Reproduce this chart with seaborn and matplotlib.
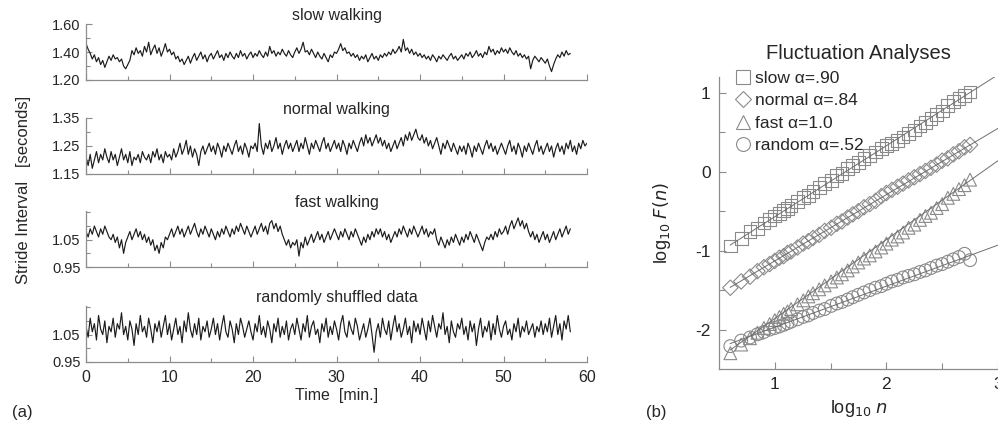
import numpy as np
import pandas as pd
import matplotlib
matplotlib.use("Agg")
import matplotlib.pyplot as plt
import seaborn as sns
from matplotlib.ticker import MultipleLocator, FixedLocator
from matplotlib.lines import Line2D

# ---- panel (a): stride interval [s], one reading every 0.25 min
slow = [1.46, 1.42, 1.39, 1.35, 1.38, 1.33, 1.36, 1.31, 1.34, 1.29, 1.33, 1.37, 1.34, 1.38, 1.35, 1.36, 1.33, 1.35, 1.30, 1.28,
        1.31, 1.34, 1.41, 1.38, 1.43, 1.39, 1.41, 1.37, 1.44, 1.40, 1.47, 1.38, 1.42, 1.45, 1.39, 1.43, 1.37, 1.41, 1.46, 1.40,
        1.42, 1.38, 1.40, 1.35, 1.37, 1.33, 1.35, 1.31, 1.34, 1.37, 1.32, 1.36, 1.39, 1.34, 1.37, 1.40, 1.35, 1.38, 1.33, 1.37,
        1.39, 1.35, 1.38, 1.41, 1.36, 1.38, 1.34, 1.39, 1.36, 1.40, 1.37, 1.35, 1.39, 1.36, 1.41, 1.37, 1.39, 1.35, 1.38, 1.40,
        1.36, 1.39, 1.37, 1.41, 1.38, 1.36, 1.40, 1.37, 1.44, 1.39, 1.41, 1.37, 1.40, 1.38, 1.42, 1.39, 1.37, 1.41, 1.38, 1.36,
        1.40, 1.43, 1.39, 1.42, 1.47, 1.40, 1.41, 1.38, 1.42, 1.39, 1.36, 1.40, 1.37, 1.35, 1.39, 1.36, 1.33, 1.38, 1.36, 1.40,
        1.39, 1.42, 1.46, 1.41, 1.43, 1.39, 1.40, 1.37, 1.39, 1.36, 1.38, 1.34, 1.37, 1.35, 1.38, 1.33, 1.36, 1.39, 1.35, 1.37,
        1.34, 1.38, 1.36, 1.39, 1.37, 1.40, 1.38, 1.42, 1.39, 1.41, 1.44, 1.40, 1.49, 1.41, 1.43, 1.39, 1.42, 1.38, 1.40, 1.37,
        1.39, 1.36, 1.38, 1.35, 1.37, 1.34, 1.38, 1.36, 1.33, 1.37, 1.35, 1.38, 1.36, 1.34, 1.37, 1.39, 1.35, 1.37, 1.34, 1.36,
        1.38, 1.35, 1.39, 1.37, 1.40, 1.36, 1.38, 1.41, 1.37, 1.39, 1.36, 1.40, 1.38, 1.44, 1.40, 1.42, 1.38, 1.41, 1.39, 1.43,
        1.40, 1.42, 1.39, 1.43, 1.40, 1.38, 1.41, 1.37, 1.39, 1.36, 1.38, 1.35, 1.37, 1.28, 1.34, 1.37, 1.35, 1.33, 1.36, 1.34,
        1.32, 1.35, 1.30, 1.26, 1.31, 1.35, 1.38, 1.36, 1.40, 1.37, 1.41, 1.38, 1.39]

normal = [1.21, 1.18, 1.22, 1.17, 1.20, 1.23, 1.19, 1.22, 1.20, 1.24, 1.21, 1.19, 1.23, 1.20, 1.22, 1.18, 1.21, 1.24, 1.20, 1.22,
          1.19, 1.23, 1.18, 1.21, 1.20, 1.22, 1.19, 1.23, 1.21, 1.20, 1.22, 1.19, 1.23, 1.21, 1.24, 1.20, 1.22, 1.19, 1.23, 1.21,
          1.22, 1.20, 1.24, 1.21, 1.23, 1.26, 1.22, 1.24, 1.27, 1.22, 1.25, 1.21, 1.24, 1.22, 1.18, 1.23, 1.25, 1.22, 1.24, 1.26,
          1.23, 1.25, 1.22, 1.26, 1.24, 1.21, 1.25, 1.23, 1.26, 1.24, 1.22, 1.25, 1.27, 1.23, 1.25, 1.22, 1.26, 1.24, 1.21, 1.25,
          1.24, 1.26, 1.23, 1.33, 1.25, 1.22, 1.26, 1.24, 1.27, 1.23, 1.25, 1.28, 1.24, 1.26, 1.22, 1.25, 1.27, 1.24, 1.26, 1.23,
          1.25, 1.27, 1.23, 1.26, 1.24, 1.28, 1.25, 1.22, 1.26, 1.24, 1.27, 1.25, 1.23, 1.26, 1.28, 1.24, 1.26, 1.23, 1.25, 1.27,
          1.24, 1.26, 1.23, 1.27, 1.25, 1.22, 1.26, 1.24, 1.27, 1.25, 1.23, 1.26, 1.28, 1.25, 1.29, 1.26, 1.28, 1.25, 1.27, 1.29,
          1.26, 1.28, 1.25, 1.27, 1.24, 1.26, 1.23, 1.25, 1.27, 1.24, 1.26, 1.28, 1.25, 1.29, 1.27, 1.30, 1.27, 1.29, 1.31, 1.28,
          1.27, 1.29, 1.26, 1.28, 1.25, 1.27, 1.24, 1.26, 1.28, 1.25, 1.22, 1.26, 1.24, 1.27, 1.25, 1.23, 1.26, 1.24, 1.22, 1.25,
          1.23, 1.25, 1.22, 1.26, 1.24, 1.21, 1.25, 1.23, 1.26, 1.24, 1.22, 1.25, 1.27, 1.24, 1.26, 1.23, 1.25, 1.22, 1.24, 1.26,
          1.24, 1.22, 1.25, 1.27, 1.23, 1.25, 1.22, 1.26, 1.24, 1.21, 1.25, 1.23, 1.26, 1.24, 1.22, 1.25, 1.27, 1.23, 1.25, 1.22,
          1.24, 1.26, 1.23, 1.25, 1.21, 1.24, 1.26, 1.23, 1.25, 1.22, 1.26, 1.24, 1.27, 1.23, 1.25, 1.22, 1.26, 1.24, 1.27, 1.25,
          1.26]

fast = [1.08, 1.06, 1.09, 1.07, 1.10, 1.08, 1.06, 1.09, 1.07, 1.10, 1.08, 1.06, 1.05, 1.07, 1.04, 1.06, 1.02, 1.05, 1.00, 1.04,
        1.06, 1.08, 1.05, 1.07, 1.09, 1.06, 1.08, 1.05, 1.07, 1.04, 1.06, 1.03, 1.05, 1.01, 1.03, 1.00, 1.04, 1.02, 1.06, 1.05,
        1.07, 1.09, 1.06, 1.08, 1.10, 1.07, 1.09, 1.06, 1.08, 1.10, 1.07, 1.09, 1.11, 1.08, 1.06, 1.09, 1.07, 1.10, 1.08, 1.06,
        1.09, 1.07, 1.05, 1.08, 1.06, 1.09, 1.07, 1.10, 1.08, 1.06, 1.09, 1.07, 1.10, 1.08, 1.11, 1.09, 1.07, 1.10, 1.08, 1.06,
        1.08, 1.10, 1.07, 1.09, 1.11, 1.08, 1.10, 1.07, 1.11, 1.12, 1.09, 1.11, 1.08, 1.10, 1.07, 1.05, 1.03, 1.05, 1.02, 1.04,
        1.03, 1.05, 0.99, 1.04, 1.02, 1.06, 1.03, 1.05, 1.07, 1.04, 1.06, 1.08, 1.05, 1.07, 1.04, 1.06, 1.08, 1.05, 1.07, 1.09,
        1.07, 1.05, 1.08, 1.06, 1.09, 1.07, 1.05, 1.08, 1.06, 1.09, 1.07, 1.05, 1.03, 1.06, 1.04, 1.07, 1.05, 1.08, 1.06, 1.09,
        1.07, 1.09, 1.06, 1.08, 1.05, 1.07, 1.04, 1.06, 1.08, 1.06, 1.09, 1.07, 1.10, 1.08, 1.06, 1.09, 1.07, 1.10, 1.08, 1.06,
        1.08, 1.10, 1.07, 1.09, 1.06, 1.08, 1.07, 1.09, 1.05, 1.03, 1.06, 1.04, 1.02, 1.05, 1.03, 1.06, 1.04, 1.07, 1.05, 1.03,
        1.06, 1.04, 1.07, 1.05, 1.08, 1.06, 1.04, 1.07, 1.05, 1.03, 1.01, 1.04, 1.06, 1.05, 1.07, 1.05, 1.08, 1.06, 1.09, 1.07,
        1.08, 1.10, 1.07, 1.10, 1.12, 1.09, 1.11, 1.13, 1.10, 1.12, 1.09, 1.11, 1.08, 1.06, 1.08, 1.05, 1.07, 1.04, 1.06, 1.08,
        1.05, 1.07, 1.04, 1.06, 1.08, 1.05, 1.07, 1.09, 1.06, 1.08, 1.10, 1.07, 1.09]

shuffled = [1.08, 1.04, 1.11, 1.06, 1.09, 1.03, 1.12, 1.07, 1.05, 1.10, 1.02, 1.08, 1.06, 1.11, 1.04, 1.09, 1.07, 1.13, 1.05, 1.08,
            1.03, 1.10, 1.07, 1.01, 1.09, 1.05, 1.12, 1.06, 1.08, 1.04, 1.11, 1.07, 1.02, 1.09, 1.06, 1.10, 1.04, 1.08, 1.12, 1.05,
            1.09, 1.03, 1.07, 1.11, 1.05, 1.08, 1.02, 1.10, 1.06, 1.13, 1.07, 1.04, 1.09, 1.05, 1.11, 1.03, 1.08, 1.06, 1.10, 1.04,
            1.07, 1.11, 1.05, 1.09, 1.03, 1.08, 1.12, 1.06, 1.04, 1.10, 1.07, 1.02, 1.09, 1.05, 1.11, 1.08, 1.04, 1.07, 1.10, 1.06,
            1.03, 1.09, 1.06, 1.12, 1.05, 1.08, 1.04, 1.10, 1.07, 1.02, 1.09, 1.06, 1.11, 1.04, 1.08, 1.05, 1.10, 1.03, 1.07, 1.09,
            1.05, 1.11, 1.07, 1.03, 1.09, 1.06, 1.12, 1.04, 1.08, 1.10, 1.05, 1.07, 1.02, 1.09, 1.06, 1.11, 1.04, 1.08, 1.05, 1.10,
            1.07, 1.03, 1.09, 1.12, 1.06, 1.04, 1.10, 1.07, 1.05, 1.11, 1.08, 1.03, 1.06, 1.09, 1.04, 1.07, 1.11, 1.05, 0.985, 1.06,
            1.09, 1.04, 1.11, 1.07, 1.05, 1.10, 1.03, 1.08, 1.12, 1.06, 1.09, 1.04, 1.07, 1.11, 1.05, 1.08, 1.02, 1.10, 1.06, 1.09,
            1.05, 1.11, 1.07, 1.03, 1.10, 1.06, 1.12, 1.08, 1.04, 1.09, 1.07, 1.13, 1.05, 1.08, 1.02, 1.10, 1.06, 1.04, 1.09, 1.07,
            1.11, 1.05, 1.08, 1.03, 1.10, 1.06, 1.09, 1.01, 1.07, 1.11, 1.04, 1.08, 1.06, 1.10, 1.03, 1.09, 1.05, 1.12, 1.07, 1.04,
            1.08, 1.10, 1.05, 1.07, 1.03, 1.09, 1.06, 1.11, 1.04, 1.08, 1.06, 1.10, 1.05, 1.07, 1.09, 1.04, 1.08, 1.06, 1.10, 1.05,
            1.09, 1.06, 1.11, 1.04, 1.08, 1.12, 1.05, 1.09, 1.03, 1.10, 1.07, 1.12, 1.06]

sample_step = 0.25  # minutes between readings

walk_titles = ["slow walking", "normal walking", "fast walking", "randomly shuffled data"]
walk_ylims = [(1.20, 1.60), (1.15, 1.35), (0.95, 1.155), (0.95, 1.155)]
walk_major = [[1.20, 1.40, 1.60], [1.15, 1.25, 1.35], [0.95, 1.05], [0.95, 1.05]]
walk_minor = [[1.30, 1.50], [1.20, 1.30], [1.00, 1.10, 1.15], [1.00, 1.10, 1.15]]

# ---- panel (b): fluctuation function, log10 F(n) vs box size n
box_size = [4, 5, 6, 7, 8, 9, 10, 11, 12, 13, 14, 16, 18, 20, 22, 25, 28, 32, 36, 40, 45, 50,
            56, 63, 71, 80, 90, 100, 112, 126, 141, 158, 178, 200, 224, 251, 282, 316, 355, 398, 447, 501, 562]
F_slow = [-0.94, -0.85, -0.76, -0.72, -0.65, -0.61, -0.56, -0.53, -0.49, -0.47, -0.43, -0.38, -0.33, -0.30, -0.25,
          -0.20, -0.15, -0.11, -0.05, -0.02, 0.04, 0.08, 0.12, 0.17, 0.21, 0.25, 0.29, 0.33, 0.36, 0.40, 0.44,
          0.49, 0.53, 0.58, 0.62, 0.67, 0.73, 0.77, 0.84, 0.89, 0.93, 0.97, 1.01]
F_normal = [-1.47, -1.39, -1.33, -1.26, -1.21, -1.17, -1.13, -1.09, -1.07, -1.03, -1.01, -0.96, -0.91, -0.88, -0.84,
            -0.80, -0.75, -0.71, -0.66, -0.63, -0.58, -0.54, -0.50, -0.45, -0.41, -0.37, -0.31, -0.27, -0.23, -0.19,
            -0.15, -0.11, -0.07, -0.03, 0.01, 0.05, 0.09, 0.14, 0.17, 0.22, 0.26, 0.31, 0.34]
F_fast = [-2.30, -2.19, -2.11, -2.04, -1.98, -1.93, -1.88, -1.84, -1.80, -1.77, -1.74, -1.68, -1.63, -1.58, -1.54,
          -1.49, -1.44, -1.39, -1.34, -1.30, -1.25, -1.20, -1.15, -1.10, -1.06, -1.01, -0.96, -0.91, -0.86, -0.82,
          -0.77, -0.71, -0.67, -0.61, -0.56, -0.52, -0.46, -0.41, -0.33, -0.28, -0.22, -0.17, -0.10]
F_random = [-2.21, -2.14, -2.10, -2.06, -2.03, -2.00, -1.98, -1.96, -1.94, -1.92, -1.90, -1.87, -1.84, -1.82, -1.79,
            -1.76, -1.74, -1.70, -1.67, -1.65, -1.62, -1.59, -1.56, -1.53, -1.50, -1.47, -1.45, -1.42, -1.39, -1.37,
            -1.34, -1.32, -1.30, -1.27, -1.25, -1.22, -1.19, -1.17, -1.14, -1.11, -1.08, -1.04, -1.12]

series_names = ["slow", "normal", "fast", "random"]
alpha_exp = [0.90, 0.84, 1.0, 0.52]
fit_intercept = [-1.47, -1.97, -2.86, -2.49]
legend_labels = ["slow \u03b1=.90", "normal \u03b1=.84", "fast \u03b1=1.0", "random \u03b1=.52"]
markers = ["s", "D", "^", "o"]
fit_range = [0.6, 3.0]

# ---- style
sns.set_theme(style="ticks")
plt.rcParams["font.family"] = ["Liberation Sans", "DejaVu Sans"]
plt.rcParams["axes.unicode_minus"] = False
spine_col = "#8c8c8c"
mark_col = "#8a8a8a"

fig = plt.figure(figsize=(9.98, 4.37), dpi=100)

# left column of stacked series
bottoms = [0.817, 0.602, 0.389, 0.172]
walk_data = [slow, normal, fast, shuffled]
for i in range(4):
    ax = fig.add_axes([0.0862, bottoms[i], 0.502, 0.128])
    vals = walk_data[i]
    t = np.arange(len(vals)) * sample_step
    sns.lineplot(x=t, y=vals, ax=ax, color="#1c1c1c", linewidth=0.85, estimator=None, sort=False)
    ax.set_xlim(0, 60)
    ax.set_ylim(*walk_ylims[i])
    ax.set_yticks(walk_major[i])
    ax.set_yticklabels(["%.2f" % v for v in walk_major[i]])
    ax.yaxis.set_minor_locator(FixedLocator(walk_minor[i]))
    ax.xaxis.set_major_locator(MultipleLocator(10))
    ax.xaxis.set_minor_locator(MultipleLocator(5))
    ax.tick_params(which="both", direction="in", color=spine_col, labelsize=10.5, pad=4)
    ax.tick_params(which="major", length=4, width=0.8)
    ax.tick_params(which="minor", length=3, width=0.8)
    sns.despine(ax=ax)
    for s in ["left", "bottom"]:
        ax.spines[s].set_color(spine_col)
        ax.spines[s].set_linewidth(0.9)
    ax.set_title(walk_titles[i], fontsize=11.5, pad=3)
    ax.set_ylabel("")
    if i < 3:
        ax.set_xticklabels([])
    else:
        ax.tick_params(axis="x", labelsize=11.5, pad=6)
        ax.set_xlabel("Time  [min.]", fontsize=11.5, labelpad=2)

fig.text(0.024, 0.565, "Stride Interval   [seconds]", rotation=90, ha="center", va="center", fontsize=12)
fig.text(0.022, 0.057, "(a)", ha="center", va="center", fontsize=12)

# right panel: fluctuation analysis
axb = fig.add_axes([0.7204, 0.1556, 0.2796, 0.668])
logn = np.log10(box_size)
fa = pd.DataFrame({
    "logn": np.concatenate([logn] * 4),
    "logF": np.concatenate([F_slow, F_normal, F_fast, F_random]),
    "series": np.repeat(series_names, len(box_size)),
})
for name, m in zip(series_names, markers):
    sub = fa[fa["series"] == name]
    size = 85 if m != "D" else 62
    sns.scatterplot(data=sub, x="logn", y="logF", marker=m, s=size, facecolors="none",
                    edgecolor=mark_col, linewidth=0.8, ax=axb, zorder=2)
for a, b in zip(alpha_exp, fit_intercept):
    xs = np.array(fit_range)
    axb.plot(xs, b + a * xs, color="#6e6e6e", linewidth=0.7, zorder=3)

axb.set_xlim(0.5, 3.0)
axb.set_ylim(-2.5, 1.2)
axb.xaxis.set_major_locator(FixedLocator([1, 2, 3]))
axb.xaxis.set_minor_locator(FixedLocator([1.5, 2.5]))
axb.yaxis.set_major_locator(FixedLocator([-2, -1, 0, 1]))
axb.yaxis.set_minor_locator(FixedLocator([-1.5, -0.5, 0.5]))
axb.tick_params(which="both", direction="in", color=spine_col, labelsize=12.5, pad=6)
axb.tick_params(which="major", length=5, width=0.8)
axb.tick_params(which="minor", length=4, width=0.8)
sns.despine(ax=axb)
for s in ["left", "bottom"]:
    axb.spines[s].set_color(spine_col)
    axb.spines[s].set_linewidth(0.9)
axb.set_xlabel(r"log$_{10}$ $n$", fontsize=13, labelpad=4)
axb.set_ylabel(r"log$_{10}$ $F(n)$", fontsize=13, labelpad=16)
axb.set_title("Fluctuation Analyses", fontsize=14.5, pad=13)

handles = [Line2D([], [], marker=m, linestyle="none", markerfacecolor="none",
                  markeredgecolor=mark_col, markeredgewidth=0.8, markersize=10 if m != "D" else 8.5)
           for m in markers]
axb.legend(handles, legend_labels, loc="upper left", bbox_to_anchor=(0.737, 0.838),
           bbox_transform=fig.transFigure, frameon=False, fontsize=12.5, handlelength=0.9,
           handletextpad=0.2, borderpad=0, borderaxespad=0, labelspacing=0.42)

fig.text(0.658, 0.057, "(b)", ha="center", va="center", fontsize=12)

fig.savefig("out.png", dpi=100)
